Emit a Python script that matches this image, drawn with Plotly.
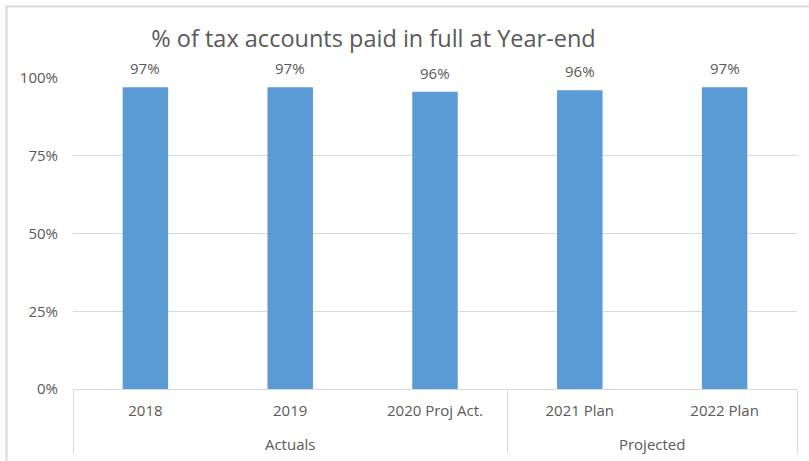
import plotly.graph_objects as go

groups = ["Actuals", "Actuals", "Actuals", "Projected", "Projected"]
years = ["2018", "2019", "2020 Proj Act.", "2021 Plan", "2022 Plan"]
values = [0.97, 0.97, 0.956, 0.961, 0.97]
y_ticks = [0, 0.25, 0.5, 0.75, 1.0]
title_text = "% of tax accounts paid in full at Year-end"

W, H = 809, 461
L, R, T, B = 73, 12, 78, 72
FONT = "Open Sans"
GRAY = "#595959"
LINE = "#D9D9D9"

# leading line break adds the vertical gap between the two label rows
group_labels = ["<br>" + g for g in groups]

fig = go.Figure()
fig.add_trace(go.Bar(
    x=[group_labels, years],
    y=values,
    marker=dict(color="#5B9BD5", line=dict(width=0)),
    hoverinfo="skip",
))

pw = W - L - R
ph = H - T - B
for i, v in enumerate(values):
    fig.add_annotation(
        x=i, y=v, xref="x", yref="y",
        text=f"{v:.0%}", showarrow=False,
        yanchor="bottom", yshift=7,
        font=dict(family=FONT, size=15, color=GRAY),
    )

# chart frame
fig.add_shape(type="rect", xref="paper", yref="paper",
              x0=(6.5 - L) / pw, x1=(W + 20 - L) / pw,
              y0=-(H + 20 - T - ph) / ph,
              y1=1 + (T - 6.5) / ph,
              line=dict(color=LINE, width=2), layer="below")

fig.update_layout(
    width=W, height=H,
    margin=dict(l=L, r=R, t=T, b=B, autoexpand=False),
    paper_bgcolor="white", plot_bgcolor="white",
    showlegend=False,
    bargap=0.686,
    font=dict(family=FONT, size=15, color=GRAY),
    title=dict(text=title_text, x=373.5 / W, xanchor="center",
               y=1 - 39 / H, yanchor="middle",
               font=dict(family=FONT, size=23.5, color=GRAY)),
)
fig.update_xaxes(
    type="multicategory",
    showline=True, linecolor=LINE, linewidth=1,
    showdividers=True, dividercolor=LINE, dividerwidth=1,
    ticks="", ticklabelstandoff=8,
    tickfont=dict(family=FONT, size=15, color=GRAY),
    showgrid=False, automargin=False,
)
fig.update_yaxes(
    range=[0, 1], tickvals=y_ticks, tickformat=".0%",
    showgrid=True, gridcolor=LINE, gridwidth=1,
    zeroline=False, showline=False,
    ticks="", ticklabelstandoff=14,
    tickfont=dict(family=FONT, size=15, color=GRAY),
    automargin=False, fixedrange=True,
)

fig.write_html("out.html")
